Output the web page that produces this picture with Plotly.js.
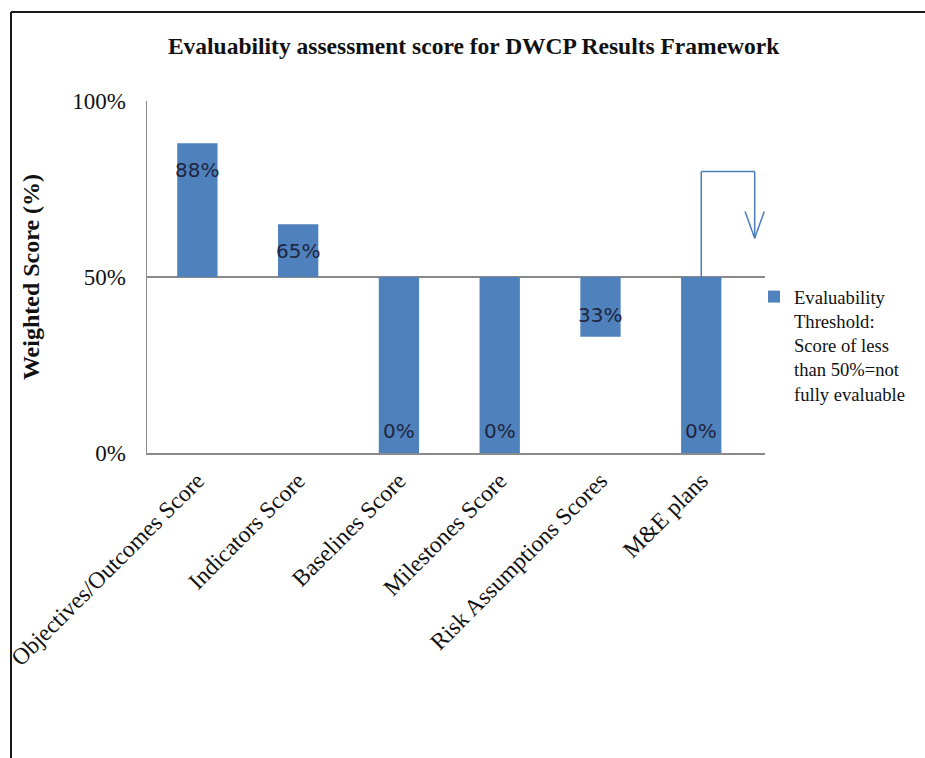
<!DOCTYPE html>
<html>
<head>
<meta charset="utf-8">
<script src="https://cdn.plot.ly/plotly-3.0.1.min.js"></script>
<style>
  html, body { margin: 0; padding: 0; background: #fff; }
  #chart { width: 925px; height: 758px; }
</style>
</head>
<body>
<div id="chart"></div>
<script>
// Evaluability scores per component of the results framework (percent)
const categories = [
  'Objectives/Outcomes Score',
  'Indicators Score',
  'Baselines Score',
  'Milestones Score',
  'Risk Assumptions Scores',
  'M&E plans'
];
const scores = [88, 65, 0, 0, 33, 0];
const threshold = 50;
const yTickVals = [0, 50, 100];
const yTickText = ['0%', '50%', '100%'];
const legendText = 'Evaluability<br>Threshold:<br>Score of less<br>than 50%=not<br>fully evaluable';

// Bars hang from the threshold line: up for scores above it, down for those below
const offsets = scores.map(s => s - threshold);

const M = { l: 147, r: 160, t: 101, b: 305 };
const W = 925, H = 758;
const plotW = W - M.l - M.r, plotH = H - M.t - M.b;
const px2x = p => (p - M.l) / plotW;          // page px -> paper x
const py2y = p => (H - M.b - p) / plotH;      // page py -> paper y

const serif = 'Liberation Serif, Times New Roman, serif';
const blue = '#4f81bd';

const bars = {
  type: 'bar',
  x: categories,
  y: offsets,
  base: threshold,
  name: legendText,
  marker: { color: blue },
  hoverinfo: 'x+text',
  hovertext: scores.map(s => s + '%')
};

// Value labels sit just inside the free end of each bar
const valueLabels = scores.map((s, i) => ({
  x: categories[i],
  y: s,
  xref: 'x', yref: 'y',
  text: s + '%',
  showarrow: false,
  yshift: s >= threshold ? -27 : 22,
  font: { family: 'DejaVu Sans, sans-serif', size: 20, color: '#1f2640' }
}));

// Bent arrow rising from the last bar and pointing back down
const mIdx = categories.length - 1;
const arrowTop = 80;
const arrowEndX = mIdx + 0.53;
const arrowTip = 61;
const arrowLine = { color: '#4a7ebb', width: 1.5 };
const seg = (x0, y0, x1, y1) => ({
  type: 'line', xref: 'x', yref: 'y', x0, y0, x1, y1, line: arrowLine
});
const arrowShapes = [
  seg(mIdx, threshold, mIdx, arrowTop),
  seg(mIdx, arrowTop, arrowEndX, arrowTop),
  seg(arrowEndX, arrowTop, arrowEndX, arrowTip),
  seg(arrowEndX - 0.095, arrowTip + 7.6, arrowEndX, arrowTip),
  seg(arrowEndX + 0.095, arrowTip + 7.6, arrowEndX, arrowTip)
];

// Page frame: left and top edges
const frameLine = { color: '#1a1a1a', width: 2 };
const frameShapes = [
  { type: 'line', xref: 'paper', yref: 'paper',
    x0: px2x(11), y0: py2y(12), x1: px2x(11), y1: py2y(H + 2), line: frameLine },
  { type: 'line', xref: 'paper', yref: 'paper',
    x0: px2x(11), y0: py2y(12), x1: px2x(W + 2), y1: py2y(12), line: frameLine }
];

const layout = {
  width: W, height: H,
  margin: M,
  paper_bgcolor: '#fff',
  plot_bgcolor: '#fff',
  bargap: 0.6,
  showlegend: true,
  title: {
    text: '<b>Evaluability assessment score for DWCP Results Framework</b>',
    font: { family: serif, size: 23.5, color: '#111' },
    xref: 'container', x: 0.512, xanchor: 'center',
    yref: 'container', y: 1 - 46 / H, yanchor: 'middle'
  },
  xaxis: {
    type: 'category',
    tickangle: -45,
    tickfont: { family: serif, size: 23.5, color: '#111' },
    ticks: '',
    ticklabelstandoff: 3,
    showline: true, linecolor: '#8a8a8a', linewidth: 1.5,
    showgrid: false, zeroline: false
  },
  yaxis: {
    range: [0, 100],
    tickvals: yTickVals,
    ticktext: yTickText,
    tickfont: { family: serif, size: 23, color: '#111' },
    ticks: '',
    ticklabelstandoff: 15,
    showline: true, linecolor: '#8a8a8a', linewidth: 1.5,
    showgrid: true, gridcolor: '#8a8a8a', gridwidth: 1.5,
    zeroline: false,
    title: {
      text: '<b>Weighted Score (%)</b>',
      font: { family: serif, size: 24, color: '#111' },
      standoff: 26
    }
  },
  legend: {
    x: px2x(754), xanchor: 'left',
    y: py2y(278), yanchor: 'top',
    valign: 'top',
    bgcolor: 'rgba(0,0,0,0)',
    font: { family: serif, size: 18.6, color: '#111' },
    itemclick: false, itemdoubleclick: false
  },
  shapes: arrowShapes.concat(frameShapes),
  annotations: valueLabels
};

Plotly.newPlot('chart', [bars], layout, { displayModeBar: false, staticPlot: true });
</script>
</body>
</html>
